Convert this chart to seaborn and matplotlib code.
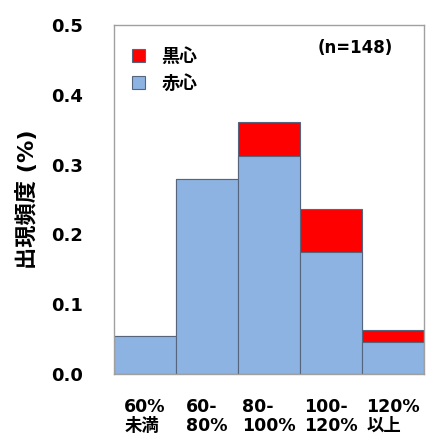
import matplotlib
matplotlib.use("Agg")
import matplotlib.pyplot as plt
from matplotlib.patches import Patch
import seaborn as sns
import pandas as pd

categories = ["60%\n未満", "60-\n80%", "80-\n100%", "100-\n120%", "120%\n以上"]
akashin = [0.054, 0.280, 0.312, 0.175, 0.046]   # 赤心
kuroshin = [0.000, 0.000, 0.049, 0.061, 0.017]  # 黒心 (stacked on top)
yticks = [0.0, 0.1, 0.2, 0.3, 0.4, 0.5]
n_label = "(n=148)"

sns.set_style("white")
plt.rcParams['font.family'] = ['DejaVu Sans', 'Noto Sans CJK JP']
plt.rcParams['text.color'] = 'black'
plt.rcParams['axes.labelcolor'] = 'black'
plt.rcParams['xtick.labelcolor'] = 'black'
plt.rcParams['ytick.labelcolor'] = 'black'

df = pd.DataFrame({"cat": categories, "akashin": akashin, "kuroshin": kuroshin})
df["total"] = df["akashin"] + df["kuroshin"]

fig = plt.figure(figsize=(4.27, 4.37), dpi=100)
ax = fig.add_axes([0.267, 0.144, 0.726, 0.799])

edge = "#55657d"
sns.barplot(data=df, x="cat", y="total", color="#FF0000", saturation=1, width=1.0,
            edgecolor=edge, linewidth=0.8, ax=ax)
sns.barplot(data=df, x="cat", y="akashin", color="#8DB3E2", saturation=1, width=1.0,
            edgecolor=edge, linewidth=0.8, ax=ax)

ax.set_xlim(-0.5, 4.5)
ax.set_ylim(0, 0.5)
ax.set_yticks(yticks)
ax.set_yticklabels([f"{v:.1f}" for v in yticks], fontsize=13, fontweight="bold")
ax.tick_params(axis="y", direction="in", length=7, color="#a0a0a0", pad=22,
               labelcolor="black")
ax.tick_params(axis="x", length=0, pad=17, labelcolor="black")
for lbl in ax.get_xticklabels():
    lbl.set_fontsize(12.5)
    lbl.set_fontweight("bold")
    lbl.set_multialignment("left")
    lbl.set_linespacing(1.1)
ax.set_xlabel("")
ax.set_ylabel("出現頻度 (%)", fontsize=16, fontweight="bold", labelpad=10, color="black")

for s in ax.spines.values():
    s.set_color("#a0a0a0")
    s.set_linewidth(1.0)

handles = [Patch(facecolor="#FF0000", edgecolor=edge, linewidth=0.8, label="黒心"),
           Patch(facecolor="#8DB3E2", edgecolor=edge, linewidth=0.8, label="赤心")]
leg = ax.legend(handles=handles, loc="upper left", bbox_to_anchor=(0.005, 0.98),
                frameon=False, prop={"size": 13, "weight": "bold"},
                handlelength=0.75, handleheight=0.75, handletextpad=0.9, labelspacing=0.5)
for t in leg.get_texts():
    t.set_color("black")

ax.text(0.777, 0.934, n_label, transform=ax.transAxes, ha="center", va="center",
        fontsize=12, fontweight="bold", color="black")

fig.savefig("out.png", dpi=100)
